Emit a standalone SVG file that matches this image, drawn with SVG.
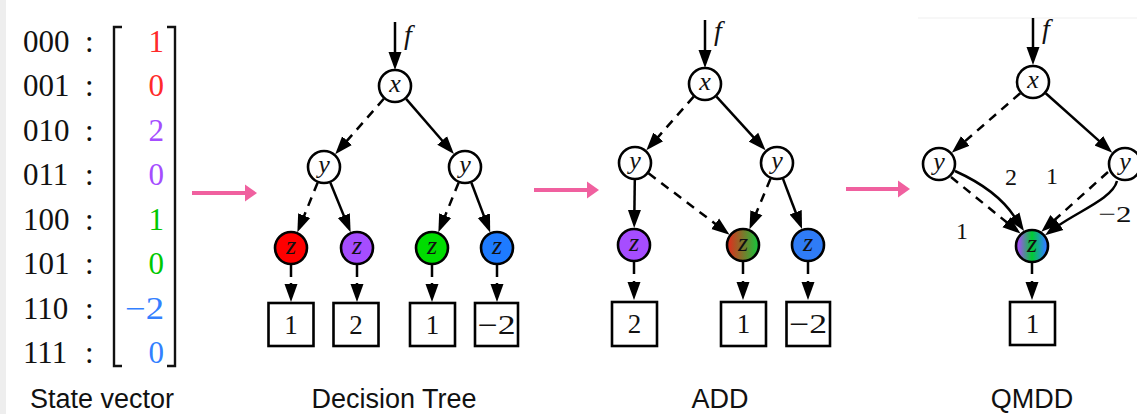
<svg xmlns="http://www.w3.org/2000/svg" width="1137" height="414" viewBox="0 0 1137 414">
<style>
.sv{font-family:"Liberation Serif","DejaVu Serif",serif;font-size:31px;fill:#111}
.val{font-family:"Liberation Serif","DejaVu Serif",serif;font-size:31px;text-anchor:end}
.cap{font-family:"Liberation Sans",Arial,sans-serif;font-size:27px;text-anchor:middle;fill:#111}
.var{font-family:"Liberation Serif","DejaVu Serif",serif;font-style:italic;font-size:26px;text-anchor:middle;fill:#111}
.fl{font-family:"Liberation Serif","DejaVu Serif",serif;font-style:italic;font-size:28px;fill:#111}
.num{font-family:"Liberation Serif","DejaVu Serif",serif;font-size:27px;text-anchor:middle;fill:#111}
.el{font-family:"Liberation Serif","DejaVu Serif",serif;font-size:24px;text-anchor:middle;fill:#111}
.node{stroke:#000;stroke-width:2.6}
.box{fill:#fff;stroke:#000;stroke-width:2.6}
.e{fill:none;stroke:#000;stroke-width:2.5;marker-end:url(#ah)}
.d{stroke-dasharray:9 7}
.br{fill:none;stroke:#111;stroke-width:2.4}
.pk{stroke:#f0609f;stroke-width:4;fill:none}
</style>
<defs>
<marker id="ah" markerUnits="userSpaceOnUse" markerWidth="20" markerHeight="16" viewBox="0 -8 20 16" refX="1" refY="0" orient="auto">
<path d="M0,-6.5 L18,0 L0,6.5 z" fill="#000"/>
</marker>
<linearGradient id="gRG" x1="0" y1="0" x2="1" y2="0">
<stop offset="0" stop-color="#e8281c"/>
<stop offset="1" stop-color="#10c83c"/>
</linearGradient>
<linearGradient id="gPGB" x1="0" y1="0" x2="1" y2="0">
<stop offset="0.08" stop-color="#a050f0"/>
<stop offset="0.5" stop-color="#00cc33"/>
<stop offset="0.92" stop-color="#2f80ff"/>
</linearGradient>
</defs>
<rect width="1137" height="414" fill="#fff"/>
<rect x="0" y="0" width="6" height="414" fill="#eeeeee"/>
<line x1="918" y1="18" x2="1137" y2="18" stroke="#efefef" stroke-width="1"/>

<g id="state-vector">
<text class="sv" x="23" y="51.5">000<tspan x="85">:</tspan></text>
<text class="sv" x="23" y="96">001<tspan x="85">:</tspan></text>
<text class="sv" x="23" y="140.5">010<tspan x="85">:</tspan></text>
<text class="sv" x="23" y="185">011<tspan x="85">:</tspan></text>
<text class="sv" x="23" y="229.5">100<tspan x="85">:</tspan></text>
<text class="sv" x="23" y="274">101<tspan x="85">:</tspan></text>
<text class="sv" x="23" y="318.5">110<tspan x="85">:</tspan></text>
<text class="sv" x="23" y="363">111<tspan x="85">:</tspan></text>
<path class="br" d="M122,27 H114 V366 H122"/>
<path class="br" d="M167,27 H175 V366 H167"/>
<text class="val" x="164" y="51.5" fill="#ff2a2a">1</text>
<text class="val" x="164" y="96" fill="#ff2a2a">0</text>
<text class="val" x="164" y="140.5" fill="#a54dff">2</text>
<text class="val" x="164" y="185" fill="#a54dff">0</text>
<text class="val" x="164" y="229.5" fill="#00c800">1</text>
<text class="val" x="164" y="274" fill="#00c800">0</text>
<text class="val" x="164" y="318.5" fill="#3380ff" textLength="39" lengthAdjust="spacingAndGlyphs">−2</text>
<text class="val" x="164" y="363" fill="#3380ff">0</text>
<text class="cap" x="102" y="408">State vector</text>
</g>

<g id="pink-arrows">
<line class="pk" x1="192" y1="193" x2="246" y2="193"/>
<path d="M245,184.5 L257,193 L245,201.5 z" fill="#f0609f"/>
<line class="pk" x1="534" y1="190" x2="588" y2="190"/>
<path d="M587,181.5 L599,190 L587,198.5 z" fill="#f0609f"/>
<line class="pk" x1="846" y1="189" x2="899" y2="189"/>
<path d="M898,180.5 L910,189 L898,197.5 z" fill="#f0609f"/>
</g>

<g id="connectors">
<path class="e" d="M395,22 V53"/>
<path class="e d" d="M383.8,98.8 L346.4,141.4"/>
<path class="e" d="M406.1,98.9 L442.8,141.2"/>
<path class="e d" d="M317.6,182.7 L303.8,216.6"/>
<path class="e" d="M330.4,182.7 L344.2,216.6"/>
<path class="e d" d="M458.6,182.7 L444.8,216.6"/>
<path class="e" d="M471.4,182.7 L484.2,216.6"/>
<path class="e" d="M291,265 V277 M291,283 V285"/>
<path class="e" d="M357,265 V277 M357,283 V285"/>
<path class="e" d="M432,265 V277 M432,283 V285"/>
<path class="e" d="M497,265 V277 M497,283 V285"/>
<path class="e" d="M705,20 V51"/>
<path class="e d" d="M693.7,96.7 L657.6,137.6"/>
<path class="e" d="M716.5,96.6 L754.1,137.8"/>
<path class="e" d="M634.8,180 L634.4,211"/>
<path class="e d" d="M648.5,173.3 L716,224.4"/>
<path class="e d" d="M770.5,178.7 L756,213.6"/>
<path class="e" d="M783,178.9 L796,213.2"/>
<path class="e" d="M634,262 V274 M634,281 V283"/>
<path class="e" d="M743,262 V274 M743,281 V283"/>
<path class="e" d="M808,262 V274 M808,281 V283"/>
<path class="e" d="M1033,18 V48"/>
<path class="e d" d="M1020.2,93.2 L964.6,141.6"/>
<path class="e" d="M1045.7,93.3 L1099.6,141.4"/>
<path class="e d" d="M951,177 L1007.3,222.8"/>
<path class="e" d="M955,171 Q996.6,189.7 1014.6,216.9"/>
<path class="e d" d="M1108,172 L1054,220.5"/>
<path class="e" d="M1117,181 C1113,198 1079,211 1058.9,225.3"/>
<path class="e" d="M1032,263 V274 M1032,281 V283"/>
</g>

<g id="dt-f"><text class="fl" x="404" y="44">f</text></g>
<g id="dt-x"><circle class="node" cx="395" cy="86" r="16" fill="#fff"/><text class="var" x="395" y="92">x</text></g>
<g id="dt-yL"><circle class="node" cx="324" cy="167" r="16" fill="#fff"/><text class="var" x="324" y="173">y</text></g>
<g id="dt-yR"><circle class="node" cx="465" cy="167" r="16" fill="#fff"/><text class="var" x="465" y="173">y</text></g>
<g id="dt-z1"><circle class="node" cx="291" cy="248" r="16" fill="#ff0000"/><text class="var" x="291" y="254">z</text></g>
<g id="dt-z2"><circle class="node" cx="357" cy="248" r="16" fill="#a64dff"/><text class="var" x="357" y="254">z</text></g>
<g id="dt-z3"><circle class="node" cx="432" cy="248" r="16" fill="#00dd00"/><text class="var" x="432" y="254">z</text></g>
<g id="dt-z4"><circle class="node" cx="497" cy="248" r="16" fill="#1e7bff"/><text class="var" x="497" y="254">z</text></g>
<g id="dt-t1"><rect class="box" x="268.5" y="303" width="45" height="43"/><text class="num" x="291" y="334">1</text></g>
<g id="dt-t2"><rect class="box" x="333.5" y="303" width="45" height="43"/><text class="num" x="356" y="334">2</text></g>
<g id="dt-t3"><rect class="box" x="410" y="303" width="45" height="43"/><text class="num" x="432.5" y="334">1</text></g>
<g id="dt-t4"><rect class="box" x="475" y="303" width="43" height="43"/><text class="num" x="496.5" y="334" textLength="38" lengthAdjust="spacingAndGlyphs">−2</text></g>
<g id="dt-cap"><text class="cap" x="394" y="408">Decision Tree</text></g>

<g id="add-f"><text class="fl" x="714" y="40">f</text></g>
<g id="add-x"><circle class="node" cx="705" cy="84" r="16" fill="#fff"/><text class="var" x="705" y="90">x</text></g>
<g id="add-yL"><circle class="node" cx="635" cy="163" r="16" fill="#fff"/><text class="var" x="635" y="169">y</text></g>
<g id="add-yR"><circle class="node" cx="777" cy="163" r="16" fill="#fff"/><text class="var" x="777" y="169">y</text></g>
<g id="add-z1"><circle class="node" cx="634" cy="245" r="16" fill="#a64dff"/><text class="var" x="634" y="251">z</text></g>
<g id="add-z2"><circle class="node" cx="743" cy="245" r="16" fill="url(#gRG)"/><text class="var" x="743" y="251">z</text></g>
<g id="add-z3"><circle class="node" cx="808" cy="245" r="16" fill="#2f7cf6"/><text class="var" x="808" y="251">z</text></g>
<g id="add-t1"><rect class="box" x="612" y="302" width="45" height="44"/><text class="num" x="634.5" y="333">2</text></g>
<g id="add-t2"><rect class="box" x="721" y="302" width="45" height="44"/><text class="num" x="743.5" y="333">1</text></g>
<g id="add-t3"><rect class="box" x="786.5" y="302" width="43.5" height="44"/><text class="num" x="808" y="333" textLength="38" lengthAdjust="spacingAndGlyphs">−2</text></g>
<g id="add-cap"><text class="cap" x="720" y="408">ADD</text></g>

<g id="q-f"><text class="fl" x="1042" y="38">f</text></g>
<g id="q-x"><circle class="node" cx="1033" cy="82" r="16" fill="#fff"/><text class="var" x="1033" y="88">x</text></g>
<g id="q-yL"><circle class="node" cx="939" cy="164" r="16" fill="#fff"/><text class="var" x="939" y="170">y</text></g>
<g id="q-yR"><circle class="node" cx="1125" cy="164" r="16" fill="#fff"/><text class="var" x="1125" y="170">y</text></g>
<g id="q-z"><circle class="node" cx="1032" cy="246" r="16" fill="url(#gPGB)"/><text class="var" x="1032" y="252">z</text></g>
<g id="q-t"><rect class="box" x="1010" y="302" width="45" height="43"/><text class="num" x="1032.5" y="333">1</text></g>
<g id="q-labels">
<text class="el" x="1011" y="185">2</text>
<text class="el" x="1052" y="184">1</text>
<text class="el" x="962" y="239">1</text>
<text class="el" x="1115" y="222" textLength="33" lengthAdjust="spacingAndGlyphs">−2</text>
</g>
<g id="q-cap"><text class="cap" x="1032" y="408">QMDD</text></g>
</svg>
